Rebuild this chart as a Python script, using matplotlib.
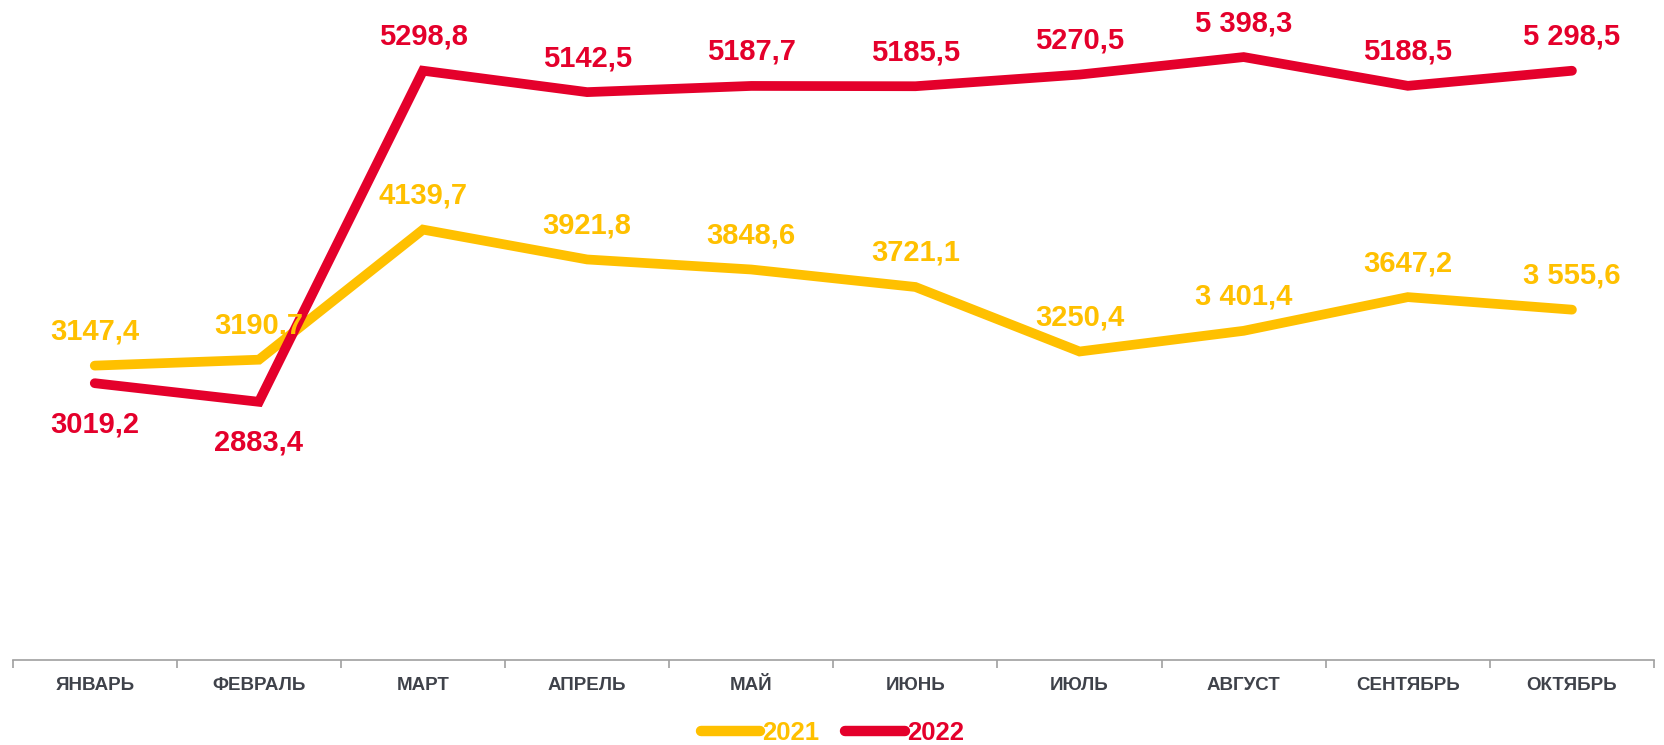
import matplotlib.pyplot as plt
from matplotlib.ticker import FixedLocator

# Data
months = ["ЯНВАРЬ", "ФЕВРАЛЬ", "МАРТ", "АПРЕЛЬ", "МАЙ", "ИЮНЬ", "ИЮЛЬ",
          "АВГУСТ", "СЕНТЯБРЬ", "ОКТЯБРЬ"]
vals_2021 = [3147.4, 3190.7, 4139.7, 3921.8, 3848.6, 3721.1, 3250.4,
             3401.4, 3647.2, 3555.6]
vals_2022 = [3019.2, 2883.4, 5298.8, 5142.5, 5187.7, 5185.5, 5270.5,
             5398.3, 5188.5, 5298.5]
labels_2021 = ["3147,4", "3190,7", "4139,7", "3921,8", "3848,6", "3721,1",
               "3250,4", "3 401,4", "3647,2", "3 555,6"]
labels_2022 = ["3019,2", "2883,4", "5298,8", "5142,5", "5187,7", "5185,5",
               "5270,5", "5 398,3", "5188,5", "5 298,5"]
below_2022 = [True, True, False, False, False, False, False, False, False, False]

yellow = "#FFC000"
red = "#E4002B"

plt.rcParams["font.family"] = ["Liberation Sans", "DejaVu Sans"]

fig = plt.figure(figsize=(16.65, 7.45), dpi=100)
ax = fig.add_axes([12.7 / 1665, 1 - 660 / 745, (1654 - 12.7) / 1665, 658 / 745])

x = list(range(len(months)))
l1, = ax.plot(x, vals_2021, color=yellow, lw=7, solid_capstyle="round",
              solid_joinstyle="miter", label="2021")
l2, = ax.plot(x, vals_2022, color=red, lw=7, solid_capstyle="round",
              solid_joinstyle="miter", label="2022")

for i in x:
    ax.annotate(labels_2021[i], (i, vals_2021[i]), xytext=(0, 24.5),
                textcoords="offset points", ha="center", va="center",
                fontsize=21, fontweight="bold", color=yellow)
    off = -29.5 if below_2022[i] else 24.5
    ax.annotate(labels_2022[i], (i, vals_2022[i]), xytext=(0, off),
                textcoords="offset points", ha="center", va="center",
                fontsize=21, fontweight="bold", color=red)

ax.set_xlim(-0.5, 9.5)
ax.set_ylim(1000, 5800)
ax.set_yticks([])
for s in ["top", "right", "left"]:
    ax.spines[s].set_visible(False)
ax.spines["bottom"].set_color("#A0A0A0")
ax.spines["bottom"].set_linewidth(1.2)

ax.set_xticks(x)
ax.set_xticklabels(months, fontsize=13.5, fontweight="bold", color="#3F424A")
ax.tick_params(axis="x", which="major", length=0, pad=12)
ax.xaxis.set_minor_locator(FixedLocator([i - 0.5 for i in range(len(months) + 1)]))
ax.tick_params(axis="x", which="minor", length=6, color="#A0A0A0", width=1.2)

leg = fig.legend(handles=[l1, l2], loc="center", bbox_to_anchor=(0.5, 1 - 733 / 745),
                 ncol=2, frameon=False, handlelength=2.3, handletextpad=0.1,
                 columnspacing=1.0, prop={"size": 18.5, "weight": "bold"})
for t, c in zip(leg.get_texts(), [yellow, red]):
    t.set_color(c)
for h in leg.legend_handles:
    h.set_linewidth(7.5)

fig.savefig("out.png", dpi=100)
